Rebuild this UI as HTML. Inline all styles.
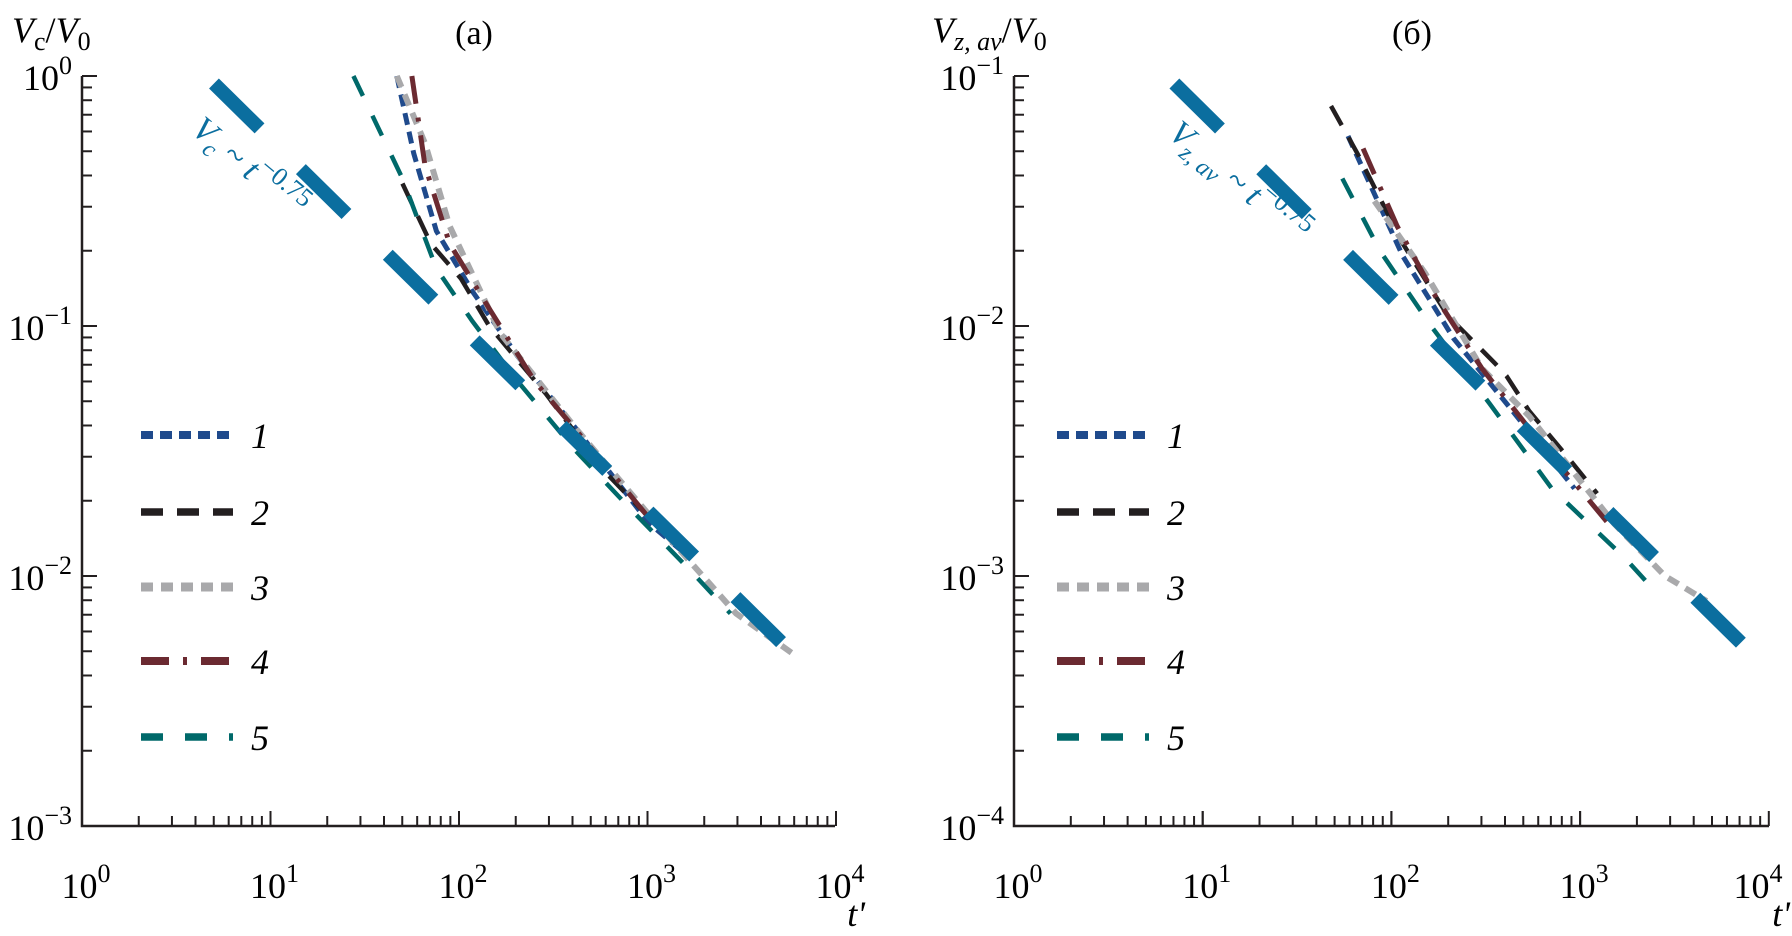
<!DOCTYPE html>
<html><head><meta charset="utf-8"><style>
html,body{margin:0;padding:0;background:#fff;}
svg{display:block;font-family:"Liberation Serif",serif;}
</style></head><body>
<svg id="chart" width="1792" height="936" viewBox="0 0 1792 936" xmlns="http://www.w3.org/2000/svg"></svg>
<script>
// Panel (a) data: log10 t, log10 V
const aS1x=[1.67,1.76,1.88,2.07,2.31,2.62,3.01,3.23];
const aS1y=[0,-0.31,-0.62,-0.86,-1.12,-1.41,-1.79,-1.93];
const aS2x=[1.70,1.85,2.01,2.16,2.46,2.77,3.04];
const aS2y=[-0.43,-0.67,-0.81,-1.00,-1.27,-1.58,-1.79];
const aS3x=[1.67,1.82,1.95,2.22,2.62,3.07,3.47,3.77];
const aS3y=[0,-0.27,-0.60,-1.03,-1.41,-1.81,-2.15,-2.31];
const aS4x=[1.75,1.82,1.95,2.16,2.40,2.77,3.01];
const aS4y=[0,-0.36,-0.67,-0.93,-1.22,-1.55,-1.77];
const aS5x=[1.44,1.70,1.88,2.07,2.31,2.62,2.92,3.23,3.44];
const aS5y=[0,-0.41,-0.77,-0.98,-1.22,-1.50,-1.74,-1.98,-2.15];
const aRefX=[0.70,3.77];
const aRefY=[-0.03,-2.31];
// Panel (б) data
const bS1x=[1.77,2.06,2.33,2.61,2.97];
const bS1y=[-1.24,-1.72,-2.05,-2.31,-2.65];
const bS2x=[1.68,1.82,2.06,2.30,2.55,2.61,2.73,2.94,3.09];
const bS2y=[-1.12,-1.31,-1.67,-1.96,-2.15,-2.20,-2.34,-2.53,-2.67];
const bS3x=[1.91,2.18,2.48,2.73,3.18,3.45,3.67];
const bS3y=[-1.50,-1.79,-2.17,-2.36,-2.79,-3.0,-3.10];
const bS4x=[1.85,2.03,2.24,2.48,2.73,3.15];
const bS4y=[-1.29,-1.60,-1.89,-2.17,-2.41,-2.79];
const bS5x=[1.74,1.94,2.21,2.52,2.85,3.24,3.42];
const bS5y=[-1.41,-1.70,-2.00,-2.31,-2.65,-2.93,-3.08];
const bRefX=[0.85,3.91];
const bRefY=[-1.03,-3.31];
const xTickExp=[0,1,2,3,4];
const aYTickExp=[0,-1,-2,-3];
const bYTickExp=[-1,-2,-3,-4];
const legendLabels=["1","2","3","4","5"];

const NS="http://www.w3.org/2000/svg";
const svg=document.getElementById('chart');
function mk(tag,attrs,parent){const e=document.createElementNS(NS,tag);for(const k in attrs)e.setAttribute(k,attrs[k]);(parent||svg).appendChild(e);return e;}
const styles=[
 {c:"#1f4a8c",w:5,d:"12 7"},
 {c:"#231f20",w:4.5,d:"22 14"},
 {c:"#a9a9ab",w:6,d:"12 8"},
 {c:"#6b2a31",w:5,d:"28 14 4 14"},
 {c:"#00696a",w:4.5,d:"22 22"}
];
function panel(o){
  const g=mk('g',{});
  
  
  const X=v=>o.x0+v*o.dx;
  const Y=v=>o.yTop+(o.yMax-v)*o.dy;
  const ax=mk('path',{d:`M${o.x0},${o.yTop} V${o.yBot} H${o.x1}`,stroke:"#231f20","stroke-width":2.5,fill:"none"},g);
  
  for(let e=0;e<4;e++){for(let m=1;m<=10;m++){const v=e+Math.log10(m);const px=X(v);if(px>o.x1+1)continue;const L=(m===1||m===10)?15:10;mk('line',{x1:px,y1:o.yBot,x2:px,y2:o.yBot-L,stroke:"#231f20","stroke-width":2},g);}}
  for(let e=o.yMax;e>o.yMax-3;e--){for(let m=1;m<=10;m++){const v=e-1+Math.log10(m);const py=Y(v);mk('line',{x1:o.x0,y1:py,x2:o.x0+((m===1||m===10)?15:10),y2:py,stroke:"#231f20","stroke-width":2},g);}}
  xTickExp.forEach(e=>{let cx=X(e)+4; if(cx+32>1790) cx=1790-32;
    const t=mk('text',{x:cx,y:o.yBot+72,"font-size":36,"text-anchor":"middle"},g);
    
    t.innerHTML=`10<tspan dy="-16" font-size="26">${e}</tspan>`;});
  o.yTicks.forEach(e=>{const t=mk('text',{x:o.x0-10,y:Y(e)+14,"font-size":36,"text-anchor":"end"},g);
    
    t.innerHTML=`10<tspan dy="-16" font-size="26">${e<0?'−'+(-e):e}</tspan>`;});
  o.series.forEach((s,i)=>{const st=styles[i];
    const p=mk('polyline',{points:s[0].map((v,j)=>X(v)+','+Y(s[1][j])).join(' '),fill:"none",stroke:st.c,"stroke-width":st.w,"stroke-dasharray":st.d},g);
    });
  const r=mk('line',{x1:X(o.ref[0][0]),y1:Y(o.ref[1][0]),x2:X(o.ref[0][1]),y2:Y(o.ref[1][1]),stroke:"#0b6e9f","stroke-width":14,"stroke-dasharray":"64 58"},g);
  
  legendLabels.forEach((lab,i)=>{const st=styles[i];const ly=o.legY[i];
    const l=mk('line',{x1:o.legX,y1:ly,x2:o.legX+92,y2:ly,stroke:st.c,"stroke-width":st.w+3,"stroke-dasharray":st.d},g);
    
    const t=mk('text',{x:o.legX+110,y:ly+13,"font-size":36,"font-style":"italic"},g);
    t.textContent=lab;});
  const tt=mk('text',{x:o.titleX,y:44,"font-size":34,"text-anchor":"middle"},g);
  tt.textContent=o.title;
  const yl=mk('text',{x:o.ylX,y:42,"font-size":36},g);
  yl.innerHTML=o.ylab;
  const xl=mk('text',{x:Math.min(o.x1+30,1790),y:o.yBot+100,"font-size":36,"font-style":"italic","text-anchor":"end"},g);
  xl.textContent="t'";
  const an=mk('text',{x:o.anX,y:o.anY,"font-size":34,fill:"#0b6e9f",transform:`rotate(40 ${o.anX} ${o.anY})`},g);
  an.innerHTML=o.an;
}
panel({name:'panel-a',x0:82,x1:835,dx:188.5,yTop:76,yBot:826,yMax:0,dy:250,yTicks:aYTickExp,
  series:[[aS1x,aS1y],[aS2x,aS2y],[aS3x,aS3y],[aS4x,aS4y],[aS5x,aS5y]],ref:[aRefX,aRefY],
  legX:141,legY:[435,512,587,661,737],title:"(a)",titleX:474,ylX:12,
  ylab:'<tspan font-style="italic">V</tspan><tspan dy="8" font-size="26">c</tspan><tspan dy="-8">/</tspan><tspan font-style="italic">V</tspan><tspan dy="8" font-size="26">0</tspan>',
  anX:190,anY:132,an:'<tspan font-style="italic">V</tspan><tspan dy="8" font-size="24" font-style="italic">c</tspan><tspan dy="-8" font-style="italic"> ~ t</tspan><tspan dy="-15" font-size="26">−0.75</tspan>'});
panel({name:'panel-b',x0:1014,x1:1769,dx:188.7,yTop:76,yBot:826,yMax:-1,dy:250,yTicks:bYTickExp,
  series:[[bS1x,bS1y],[bS2x,bS2y],[bS3x,bS3y],[bS4x,bS4y],[bS5x,bS5y]],ref:[bRefX,bRefY],
  legX:1057,legY:[435,512,587,661,737],title:"(б)",titleX:1412,ylX:932,
  ylab:'<tspan font-style="italic">V</tspan><tspan dy="8" font-size="26" font-style="italic">z, av</tspan><tspan dy="-8">/</tspan><tspan font-style="italic">V</tspan><tspan dy="8" font-size="26">0</tspan>',
  anX:1167,anY:136,an:'<tspan font-style="italic">V</tspan><tspan dy="8" font-size="24" font-style="italic">z, av</tspan><tspan dy="-8" font-style="italic">  ~ t</tspan><tspan dy="-15" font-size="26">−0.75</tspan>'});
</script>
</body></html>
